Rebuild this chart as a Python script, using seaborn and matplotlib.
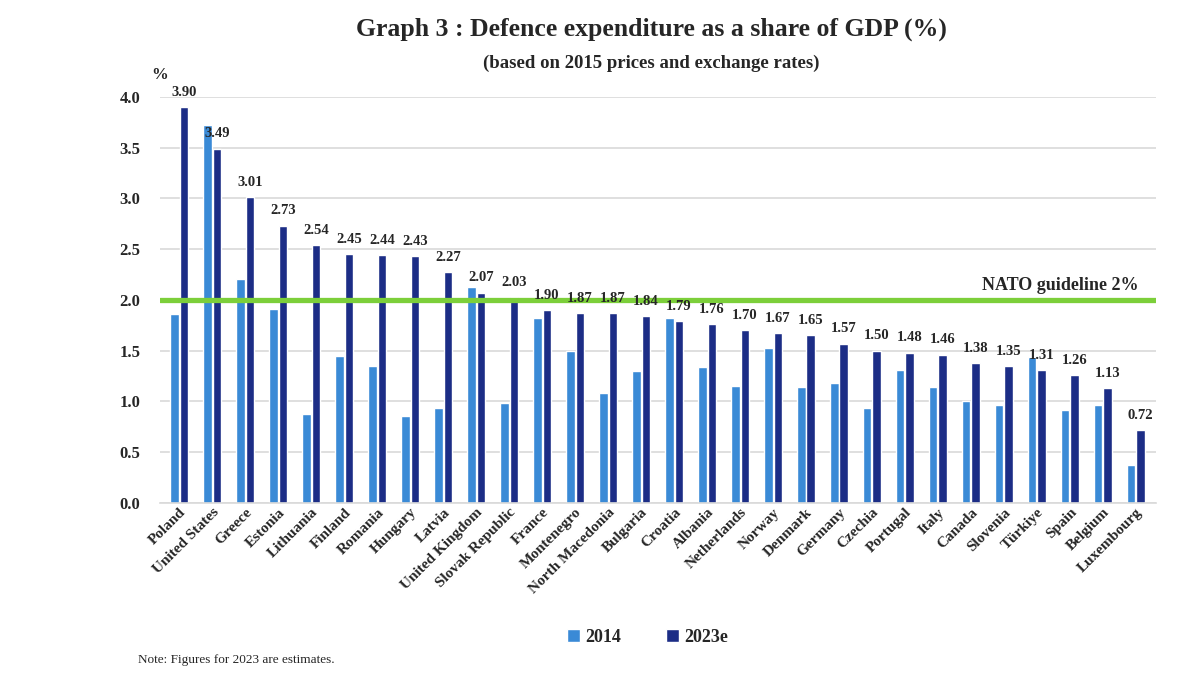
import matplotlib
matplotlib.use('Agg')
import matplotlib.pyplot as plt
import seaborn as sns
import pandas as pd

countries = ['Poland', 'United States', 'Greece', 'Estonia', 'Lithuania', 'Finland', 'Romania',
             'Hungary', 'Latvia', 'United Kingdom', 'Slovak Republic', 'France', 'Montenegro',
             'North Macedonia', 'Bulgaria', 'Croatia', 'Albania', 'Netherlands', 'Norway',
             'Denmark', 'Germany', 'Czechia', 'Portugal', 'Italy', 'Canada', 'Slovenia',
             'Türkiye', 'Spain', 'Belgium', 'Luxembourg']
# 2014 valeurs (estimées)
val_2014 = [1.86, 3.72, 2.21, 1.91, 0.88, 1.45, 1.35, 0.86, 0.94, 2.13, 0.98, 1.82, 1.50,
            1.08, 1.30, 1.82, 1.34, 1.15, 1.53, 1.14, 1.18, 0.94, 1.31, 1.14, 1.00, 0.97,
            1.44, 0.92, 0.97, 0.37]
val_2023 = [3.90, 3.49, 3.01, 2.73, 2.54, 2.45, 2.44, 2.43, 2.27, 2.07, 2.03, 1.90, 1.87,
            1.87, 1.84, 1.79, 1.76, 1.70, 1.67, 1.65, 1.57, 1.50, 1.48, 1.46, 1.38, 1.35,
            1.31, 1.26, 1.13, 0.72]
years = ['2014', '2023e']
guideline = 2.0

df = pd.DataFrame({'Country': countries * 2,
                   'Year': [years[0]] * len(countries) + [years[1]] * len(countries),
                   'Value': val_2014 + val_2023})

sns.set_style('white')
plt.rcParams['font.family'] = ['Liberation Serif', 'DejaVu Serif']

fig = plt.figure(figsize=(12, 6.77), dpi=100)
ax = fig.add_axes([0.133, 0.257, 0.83, 0.6])

sns.barplot(data=df, x='Country', y='Value', hue='Year', palette=['#3a8ad6', '#1c2d86'],
            width=0.58, gap=0.1, saturation=1, ax=ax, legend=True)

ax.set_ylim(0, 4.0)
ax.set_xlim(-0.6, len(countries) - 0.4)
ax.set_yticks([0, 0.5, 1, 1.5, 2, 2.5, 3, 3.5, 4])
ax.set_yticklabels([f'{t:.1f}' for t in ax.get_yticks()], fontsize=12, fontweight='bold')
ax.yaxis.grid(True, color='#d9d9d9', linewidth=1.2)
ax.set_axisbelow(True)
ax.tick_params(axis='y', length=0, pad=14)
ax.tick_params(axis='x', length=0, pad=2)
plt.setp(ax.get_xticklabels(), rotation=45, ha='right', rotation_mode='anchor',
         fontsize=11, fontweight='bold')
for s in ['top', 'right', 'left']:
    ax.spines[s].set_visible(False)
ax.spines['bottom'].set_color('#d9d9d9')
ax.spines['bottom'].set_linewidth(1.2)
ax.set_xlabel('')
ax.set_ylabel('')

# étiquettes 2023e
labels = ax.bar_label(ax.containers[1], fmt='%.2f', padding=6, fontsize=10.5, fontweight='bold')
for lb in labels:
    lb.set_zorder(6)

# ligne OTAN 2%
ax.axhline(guideline, color='#7ccf3a', linewidth=3.8, zorder=4)
ax.text(len(countries) - 0.9, guideline + 0.06, 'NATO guideline 2%', ha='right', va='bottom',
        fontsize=13, fontweight='bold', zorder=6)

ax.text(0.0, 1.045, '%', transform=ax.transAxes, fontsize=12, fontweight='bold', ha='center')

leg = ax.legend(loc='upper center', bbox_to_anchor=(0.49, -0.27), ncol=2, frameon=False,
                fontsize=13, handlelength=0.7, handleheight=0.7, columnspacing=2.5,
                handletextpad=0.3)
for t in leg.get_texts():
    t.set_fontweight('bold')

fig.text(0.543, 0.957, 'Graph 3 : Defence expenditure as a share of GDP (%)', ha='center',
         va='center', fontsize=18.5, fontweight='bold')
fig.text(0.543, 0.907, '(based on 2015 prices and exchange rates)', ha='center', va='center',
         fontsize=13.5, fontweight='bold')
fig.text(0.115, 0.025, 'Note: Figures for 2023 are estimates.', ha='left', va='center', fontsize=9.5)

fig.savefig('out.png', dpi=100)
